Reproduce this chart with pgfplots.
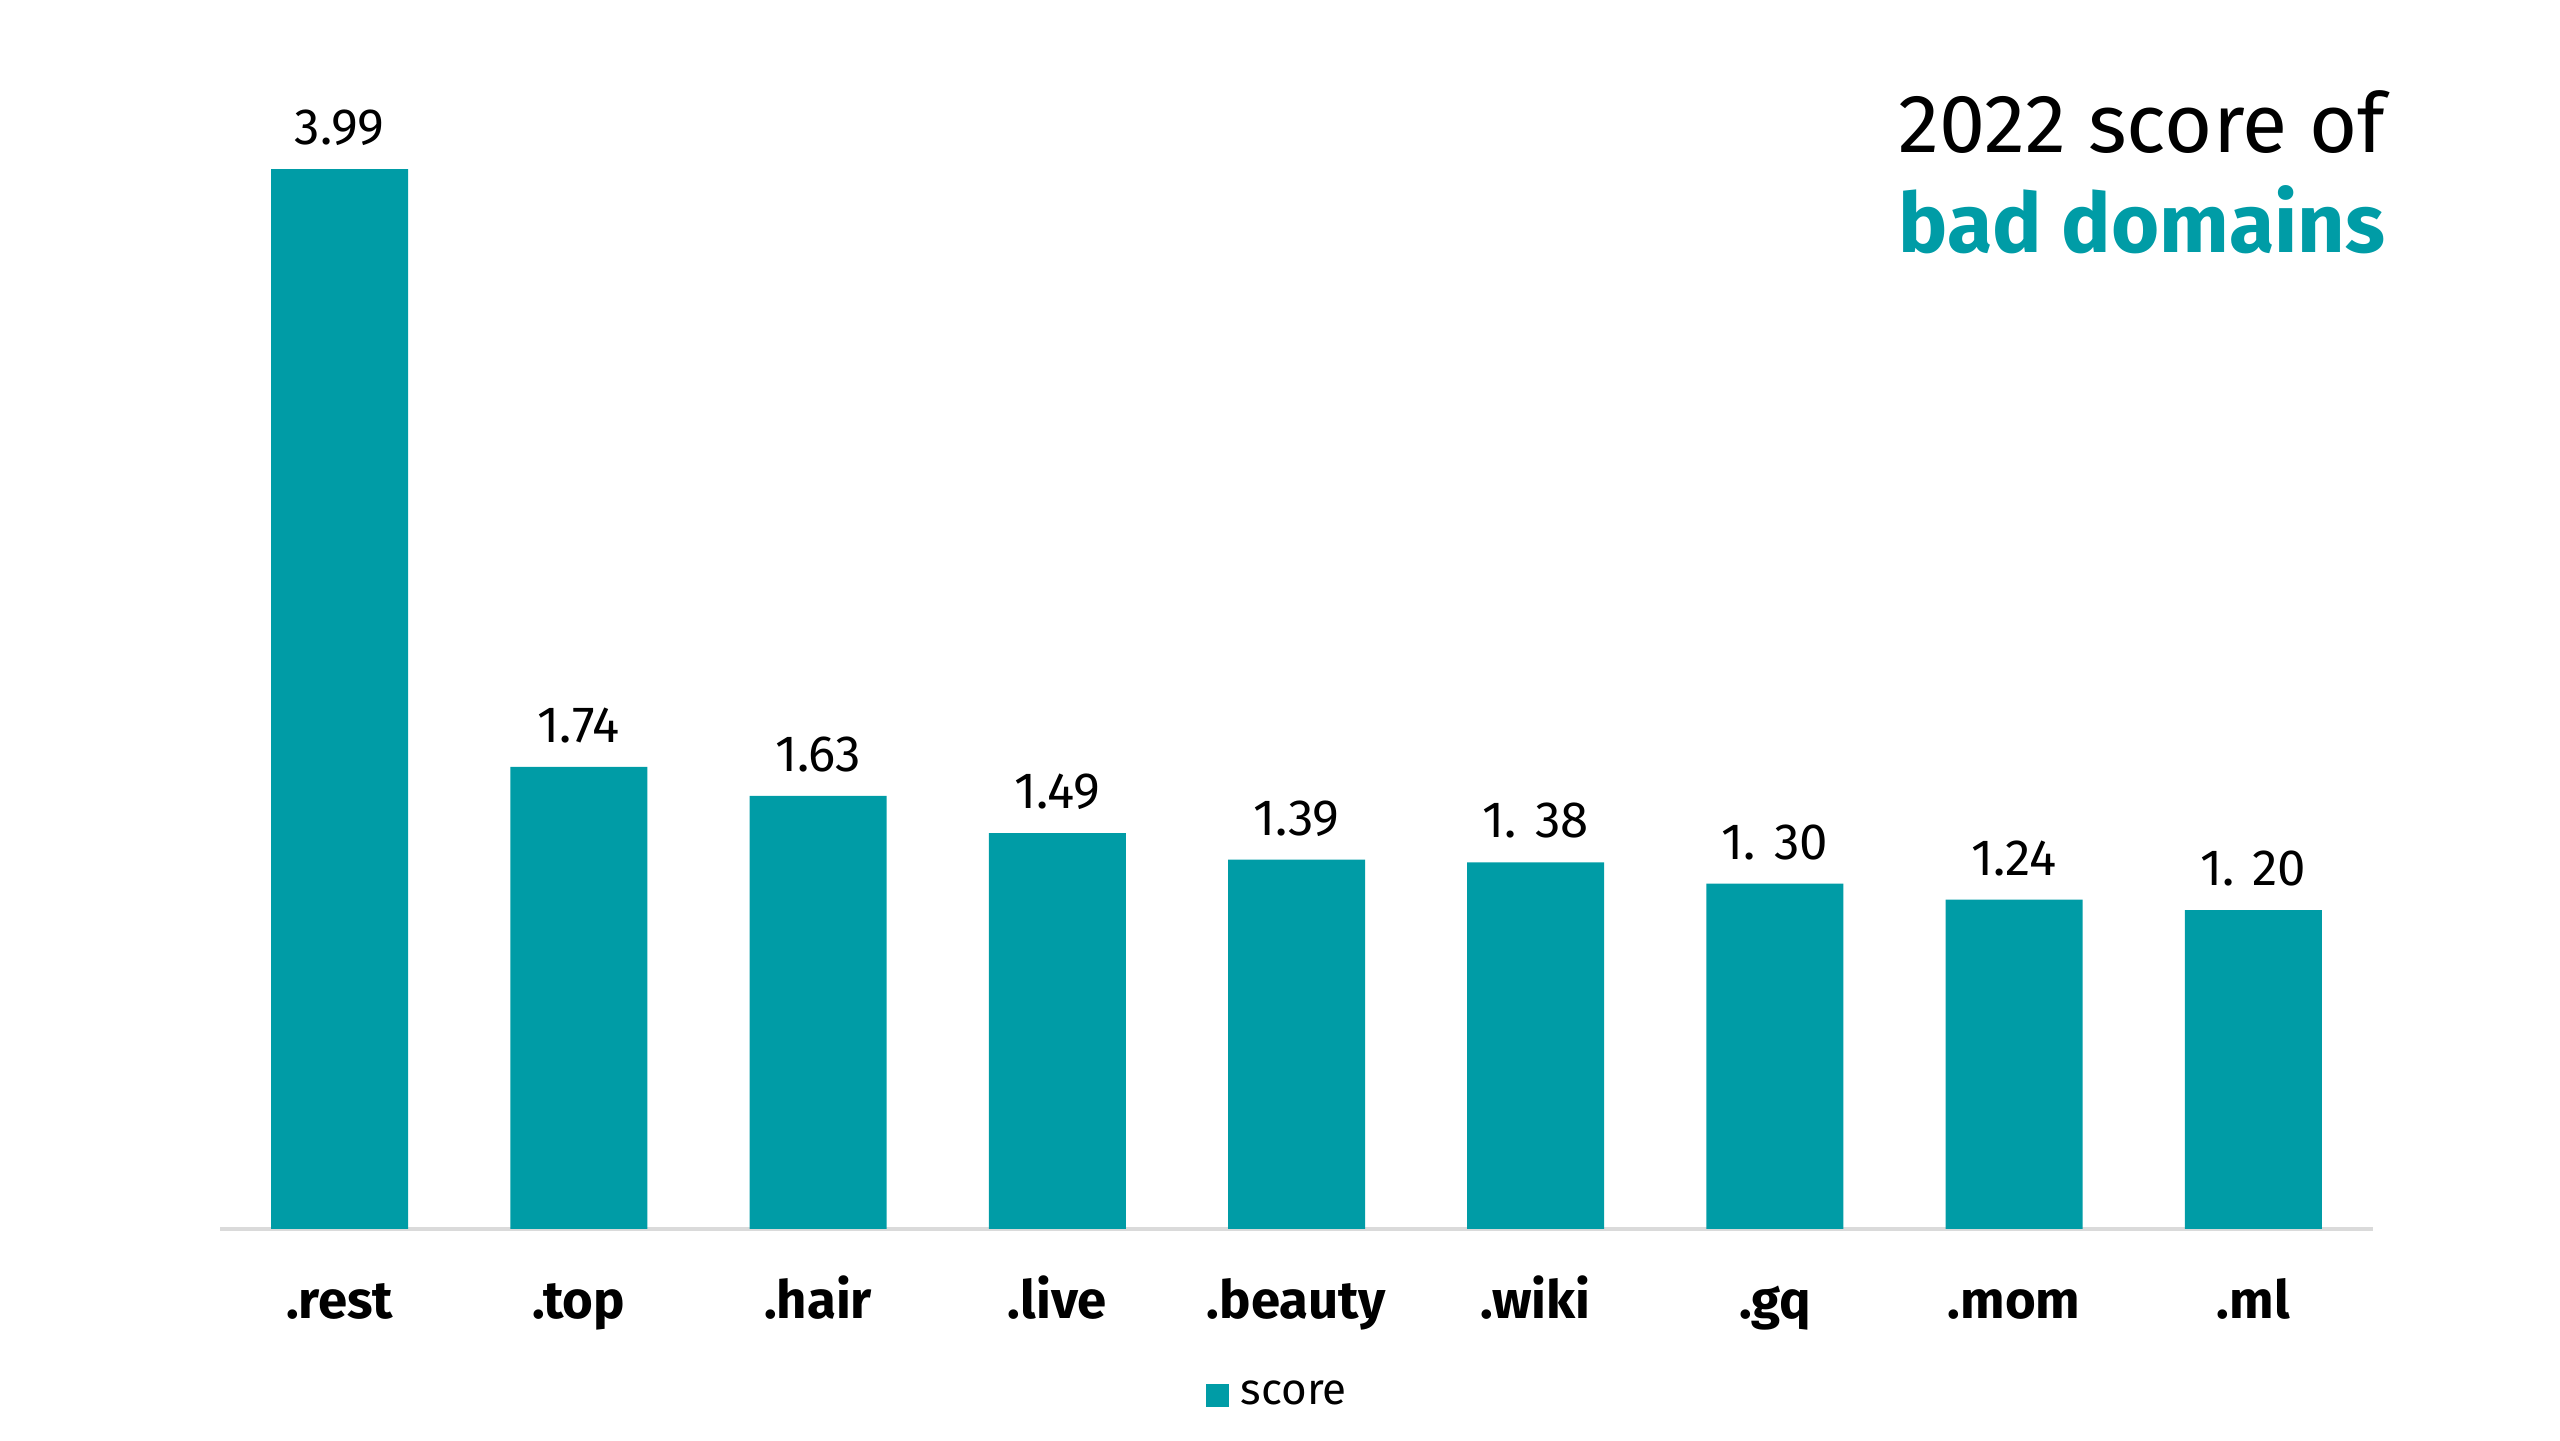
\documentclass[border=0pt]{standalone}
\usepackage{pgfplots}
\pgfplotsset{compat=1.18}
\usepackage{pgfplotstable}
\usepackage{fontspec}
\setmainfont{Fira Sans}
\definecolor{teal1}{HTML}{009CA6}
\definecolor{axgray}{HTML}{DADADA}
\pgfplotstableread[col sep=comma]{
x,label,score,vlabel
0,.rest,3.99,3.99
1,.top,1.74,1.74
2,.hair,1.63,1.63
3,.live,1.49,1.49
4,.beauty,1.39,1.39
5,.wiki,1.38,1. 38
6,.gq,1.30,1. 30
7,.mom,1.24,1.24
8,.ml,1.20,1. 20
}\data
\begin{document}
\begin{tikzpicture}
\useasboundingbox (0,0) rectangle (25.6cm,14.4cm);
\begin{axis}[
  at={(2.20cm,2.11cm)}, anchor=south west,
  scale only axis, width=21.53cm, height=12.22cm,
  xmin=-0.5, xmax=8.5, ymin=0, ymax=4.6,
  hide y axis,
  axis x line*=bottom,
  x axis line style={-, draw=axgray, line width=0.9pt},
  ybar, bar width=1.37cm,
  xtick={0,...,8},
  xticklabels from table={\data}{label},
  major tick length=0pt,
  xticklabel style={font=\fontsize{15}{18}\selectfont\bfseries, anchor=base, yshift=-0.9cm, inner sep=0pt},
  nodes near coords,
  point meta=explicit symbolic,
  nodes near coords style={font=\fontsize{14.5}{17}\selectfont, anchor=base, yshift=0.245cm, inner sep=0pt, text=black},
  legend style={at={(0.4575,-0.136)}, anchor=west, draw=none, fill=none, inner sep=0pt,
    font=\fontsize{12.5}{15}\selectfont},
  legend image code/.code={\fill[teal1] (0cm,-0.115cm) rectangle (0.23cm,0.115cm);},
]
\addplot[fill=teal1, draw=none] table[x=x,y=score,meta=vlabel]{\data};
\addlegendentry{\hspace{0.05cm}score}
\end{axis}
\node[anchor=base west, inner sep=0pt, font=\fontsize{23.5}{28}\selectfont] at (18.98cm,12.87cm) {2022 score of};
\node[anchor=base west, inner sep=0pt, font=\fontsize{23.5}{28}\selectfont\bfseries, text=teal1] at (18.98cm,11.87cm) {bad domains};
\end{tikzpicture}
\end{document}
